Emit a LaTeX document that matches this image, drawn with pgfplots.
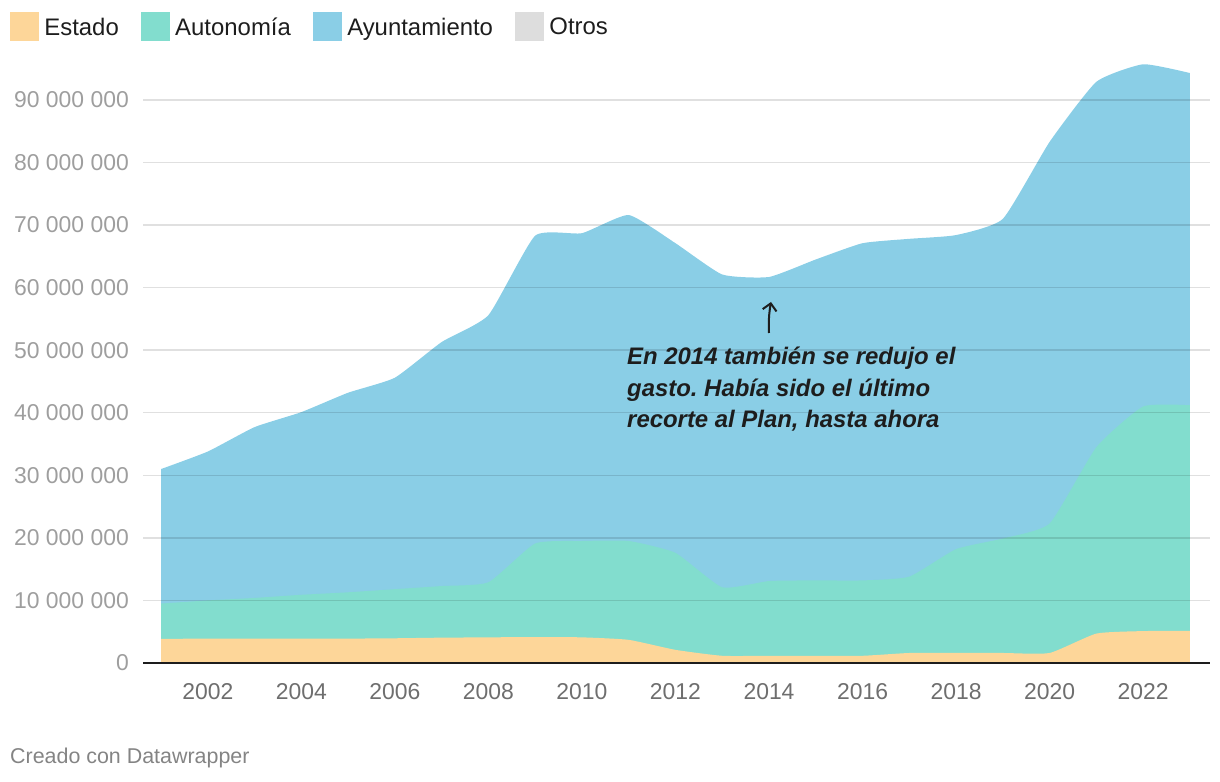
\documentclass[border=0pt]{standalone}
\usepackage{fontspec}
\setmainfont{Liberation Sans}
\usepackage{pgfplots}
\pgfplotsset{compat=1.18}
\usepackage{pgfplotstable}
\usetikzlibrary{arrows.meta}
\frenchspacing

\definecolor{estado}{HTML}{FDD699}
\definecolor{auton}{HTML}{82DDCE}
\definecolor{ayunt}{HTML}{8ACEE6}
\definecolor{otros}{HTML}{DDDDDD}
\definecolor{ylab}{HTML}{9E9E9E}
\definecolor{xlab}{HTML}{6E6E6E}
\definecolor{ink}{HTML}{1D1D1D}

% values in millions of euros
\pgfplotstableread{
Year E    A     Ay
2001 3.85 5.65  21.5
2002 3.90 6.10  23.8
2003 3.90 6.50  27.3
2004 3.90 7.00  29.2
2005 3.90 7.40  31.9
2006 3.95 7.85  33.8
2007 4.05 8.25  39.0
2008 4.10 8.80  42.7
2009 4.15 14.95 49.2
2010 4.10 15.40 49.2
2011 3.70 15.80 52.1
2012 2.10 15.50 49.5
2013 1.15 10.95 50.0
2014 1.15 11.95 48.6
2015 1.15 12.05 51.3
2016 1.15 12.05 53.9
2017 1.60 12.20 54.0
2018 1.60 16.60 50.2
2019 1.60 18.30 51.1
2020 1.60 20.70 61.0
2021 4.70 29.80 58.4
2022 5.10 35.90 54.7
2023 5.15 36.05 53.1
}\data

\pgfplotsset{sq/.style={legend image code/.code={\fill[#1] (0bp,-13bp) rectangle (28bp,15bp);}}}

\begin{document}
\begin{tikzpicture}[x=1bp,y=1bp]
\path[use as bounding box] (0,0) rectangle (1220,782);
\begin{axis}[
  at={(143bp,119bp)}, anchor=south west,
  scale only axis, width=1067bp, height=625.6bp,
  xmin=2000.615, xmax=2023.43, ymin=0, ymax=100,
  axis on top,
  axis lines*=left,
  y axis line style={draw=none},
  x axis line style={line width=2.5bp, color=ink},
  xtick={2002,2004,...,2022},
  xticklabels={2002,2004,2006,2008,2010,2012,2014,2016,2018,2020,2022},
  ytick={0,10,...,90},
  yticklabels={0,10~000~000,20~000~000,30~000~000,40~000~000,50~000~000,60~000~000,70~000~000,80~000~000,90~000~000},
  ymajorgrids,
  major grid style={black, opacity=0.12, line width=1.5bp},
  major tick length=0pt,
  tick style={draw=none},
  xticklabel style={font=\fontsize{23}{27}\selectfont, text=xlab, inner sep=0pt, anchor=north, yshift=-20bp},
  yticklabel style={font=\fontsize{23}{27}\selectfont, text=ylab, inner sep=0pt, anchor=east, xshift=-14bp},
  legend style={draw=none, fill=none, inner sep=0pt, outer sep=0pt,
    at={(-0.12465,1.0406)}, anchor=north west,
    font=\fontsize{24}{28}\selectfont, text=ink,
    nodes={inner sep=0pt},
    /tikz/every odd column/.append style={column sep=6bp},
    /tikz/every even column/.append style={column sep=22bp}},
  legend columns=-1,
  clip=false,
]
\addplot[draw=none, fill=ayunt, smooth, tension=0.3, forget plot]
  table[x=Year, y expr=\thisrow{E}+\thisrow{A}+\thisrow{Ay}] {\data} \closedcycle;
\addplot[draw=none, fill=auton, smooth, tension=0.3, forget plot]
  table[x=Year, y expr=\thisrow{E}+\thisrow{A}] {\data} \closedcycle;
\addplot[draw=none, fill=estado, smooth, tension=0.3, forget plot]
  table[x=Year, y=E] {\data} \closedcycle;

\addlegendimage{sq=estado}\addlegendentry{Estado}
\addlegendimage{sq=auton}\addlegendentry{Autonomía}
\addlegendimage{sq=ayunt}\addlegendentry{Ayuntamiento}
\addlegendimage{sq=otros}\addlegendentry{Otros}
\end{axis}

\begin{scope}[every node/.style={anchor=base west, inner sep=0pt, text=ink, font=\fontsize{24}{28}\bfseries\itshape\selectfont}]
\node at (627,417) {En 2014 también se redujo el};
\node at (627,385) {gasto. Había sido el último};
\node at (627,354) {recorte al Plan, hasta ahora};
\end{scope}
\draw[ink, line width=2bp, -{Straight Barb[length=7bp, width=14bp]}] (769,449) to[bend left=6] (771,480);

\node[anchor=base west, inner sep=0pt, text=xlab!85, font=\fontsize{21.5}{26}\selectfont] at (10,18) {Creado con Datawrapper};
\end{tikzpicture}
\end{document}
